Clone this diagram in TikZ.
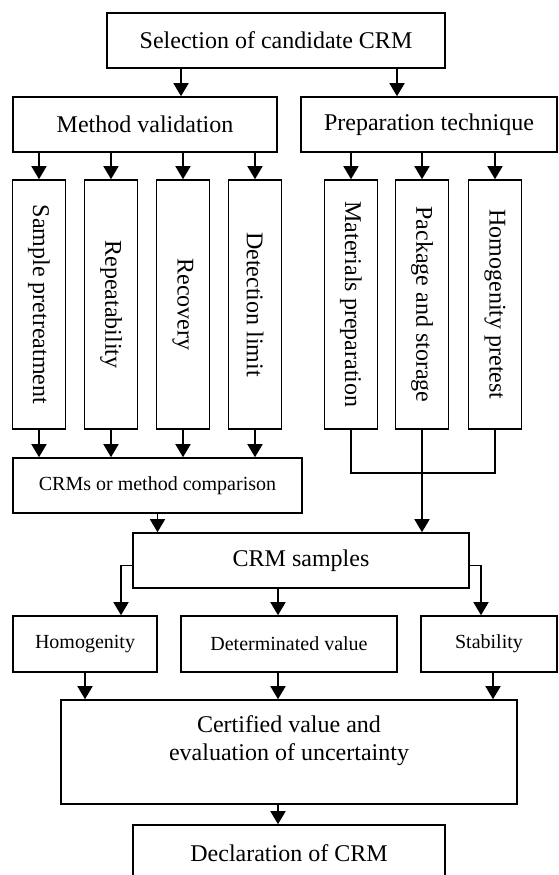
\documentclass[tikz,border=0pt]{standalone}
\usepackage{fontspec}
\setmainfont{Liberation Serif}
\usepackage{graphicx}
\usetikzlibrary{arrows.meta}
\begin{document}
\begin{tikzpicture}[x=1pt,y=1pt,
  box/.style={draw, line width=1.6pt, inner sep=0pt, align=center, font=\fontsize{24}{28}\selectfont},
  sbox/.style={box, font=\fontsize{20}{24}\selectfont},
  vbox/.style={box, minimum width=53pt, minimum height=249pt},
  arr/.style={line width=1.6pt, -{Triangle[width=15pt,length=13pt]}},
  ln/.style={line width=1.6pt}]
\useasboundingbox (0,0) rectangle (558,-875);
\fill[white] (0,0) rectangle (558,-875);
\clip (0,0) rectangle (558,-875);
% row 1
\node[box, minimum width=338pt, minimum height=55pt] (top) at (276,-40.5) {Selection of candidate CRM};
% row 2
\node[box, minimum width=264pt, minimum height=55pt] (mv) at (145,-124.5) {Method validation};
\node[box, minimum width=256pt, minimum height=55pt] (pt) at (429,-124.5) {Preparation technique};
% row 3
\node[vbox] (sp) at (39,-304.5) {\rotatebox{-90}{Sample pretreatment}};
\node[vbox] (rep) at (111,-304.5) {\rotatebox{-90}{Repeatability}};
\node[vbox] (rec) at (183,-304.5) {\rotatebox{-90}{Recovery}};
\node[vbox] (dl) at (255,-304.5) {\rotatebox{-90}{Detection limit}};
\node[vbox] (mp) at (351,-304.5) {\rotatebox{-90}{Materials preparation}};
\node[vbox] (pk) at (422,-304.5) {\rotatebox{-90}{Package and storage}};
\node[vbox] (hp) at (495,-304.5) {\rotatebox{-90}{Homogenity pretest}};
% row 4
\node[sbox, minimum width=289pt, minimum height=55pt] (cmp) at (157.5,-485.5) {CRMs or method comparison};
\node[box, minimum width=336pt, minimum height=55pt] (smp) at (301,-560.5) {CRM samples};
% row 5
\node[sbox, minimum width=144pt, minimum height=56pt] (hom) at (85,-644) {Homogenity};
\node[sbox, minimum width=216pt, minimum height=56pt] (det) at (289,-644) {Determinated value};
\node[sbox, minimum width=136pt, minimum height=56pt] (stab) at (489,-644) {Stability};
% row 6
\node[box, minimum width=456pt, minimum height=104pt] (cert) at (289,-752) {Certified value and\\evaluation of uncertainty\\\mbox{}};
\node[box, minimum width=312pt, minimum height=57pt] (decl) at (289,-853.5) {Declaration of CRM};
% helper coordinates
\coordinate (a1) at (181,0);
\coordinate (a2) at (397,0);
\coordinate (lb) at (121,0);
\coordinate (rb) at (481,0);
\coordinate (ax) at (278,0);
\coordinate (sx) at (493,0);
% connectors
\draw[arr] (top.south -| a1) -- (mv.north -| a1);
\draw[arr] (top.south -| a2) -- (pt.north -| a2);
\foreach \n in {sp,rep,rec,dl} {
  \draw[arr] (mv.south -| \n.north) -- (\n.north);
  \draw[arr] (\n.south) -- (\n.south |- cmp.north);
}
\foreach \n in {mp,pk,hp} {
  \draw[arr] (pt.south -| \n.north) -- (\n.north);
}
\draw[ln] (mp.south) -- ++(0,-43) -| (hp.south);
\draw[arr] (pk.south) -- (pk.south |- smp.north);
\draw[arr] (cmp.south) -- (cmp.south |- smp.north);
\draw[arr] ([yshift=-5pt]smp.west) -| (hom.north -| lb);
\draw[arr] ([yshift=-5pt]smp.east) -| (stab.north -| rb);
\draw[arr] (smp.south -| ax) -- (det.north -| ax);
\draw[arr] (hom.south) -- (hom.south |- cert.north);
\draw[arr] (det.south -| ax) -- (cert.north -| ax);
\draw[arr] (stab.south -| sx) -- (cert.north -| sx);
\draw[arr] (cert.south -| ax) -- (decl.north -| ax);
\end{tikzpicture}
\end{document}
